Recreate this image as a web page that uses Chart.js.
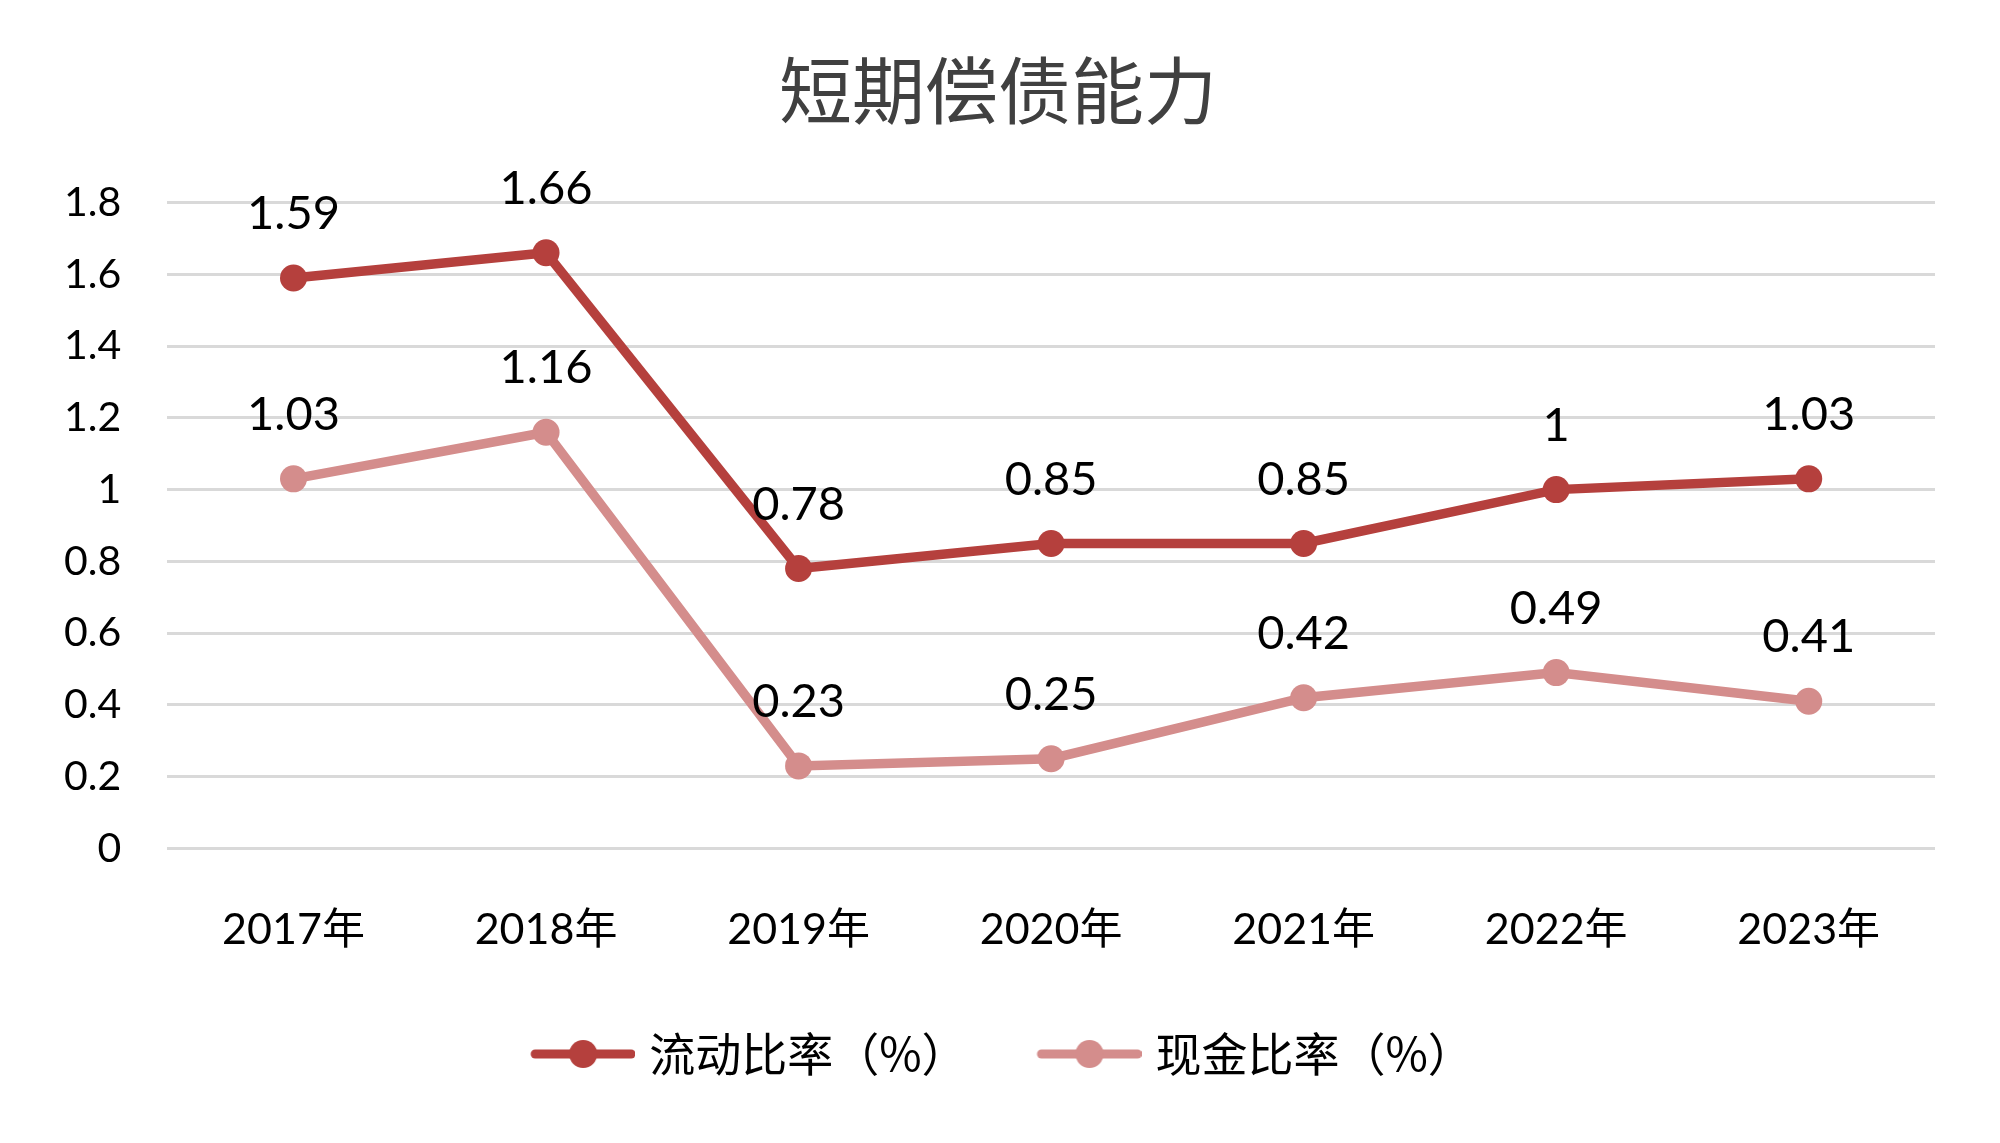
<!DOCTYPE html>
<html>
<head>
<meta charset="utf-8">
<script src="https://cdn.jsdelivr.net/npm/chart.js@4"></script>
<style>
html,body{margin:0;padding:0;background:#fff;}
#wrap{width:2000px;height:1143px;}
</style>
</head>
<body>
<div id="wrap"><canvas id="c" width="2000" height="1143"></canvas></div>
<script>
const categories = ['2017年','2018年','2019年','2020年','2021年','2022年','2023年'];
const currentRatio = [1.59, 1.66, 0.78, 0.85, 0.85, 1, 1.03];
const cashRatio = [1.03, 1.16, 0.23, 0.25, 0.42, 0.49, 0.41];
const seriesNames = ['流动比率（%）', '现金比率（%）'];
const yTicks = [0, 0.2, 0.4, 0.6, 0.8, 1, 1.2, 1.4, 1.6, 1.8];
const titleText = '短期偿债能力';

const darkColor = '#B5403D';
const lightColor = '#D48D8C';
const latin = 'Lato, "Noto Sans CJK SC", sans-serif';

function legendIcon(color) {
  const cv = document.createElement('canvas');
  cv.width = 122; cv.height = 30;
  const g = cv.getContext('2d');
  g.strokeStyle = color; g.lineWidth = 9; g.lineCap = 'round';
  g.beginPath(); g.moveTo(22, 15); g.lineTo(118, 15); g.stroke();
  g.fillStyle = color;
  g.beginPath(); g.arc(70, 15, 14, 0, Math.PI * 2); g.fill();
  return cv;
}
const icons = [legendIcon(darkColor), legendIcon(lightColor)];

const valueLabels = {
  id: 'valueLabels',
  afterDatasetsDraw(chart) {
    const ctx = chart.ctx;
    ctx.save();
    ctx.font = '47px ' + latin;
    ctx.fillStyle = '#000';
    ctx.textAlign = 'center';
    ctx.textBaseline = 'middle';
    chart.data.datasets.forEach((ds, i) => {
      const meta = chart.getDatasetMeta(i);
      meta.data.forEach((pt, j) => {
        ctx.fillText(String(ds.data[j]), pt.x, pt.y - 64);
      });
    });
    ctx.restore();
  }
};

new Chart(document.getElementById('c'), {
  type: 'line',
  data: {
    labels: categories,
    datasets: [
      {
        label: seriesNames[0],
        data: currentRatio,
        borderColor: darkColor,
        backgroundColor: darkColor,
        borderWidth: 9.5,
        pointRadius: 13.5,
        pointHoverRadius: 13.5,
        pointBackgroundColor: darkColor,
        pointBorderWidth: 0,
        tension: 0
      },
      {
        label: seriesNames[1],
        data: cashRatio,
        borderColor: lightColor,
        backgroundColor: lightColor,
        borderWidth: 9.5,
        pointRadius: 13.5,
        pointHoverRadius: 13.5,
        pointBackgroundColor: lightColor,
        pointBorderWidth: 0,
        tension: 0
      }
    ]
  },
  options: {
    responsive: false,
    animation: false,
    devicePixelRatio: 1,
    layout: { padding: { left: 18, right: 22, top: 0, bottom: 56 } },
    plugins: {
      title: {
        display: true,
        text: titleText,
        color: '#404040',
        font: { family: '"Noto Sans CJK SC", sans-serif', size: 73, weight: 'normal' },
        padding: { top: 46, bottom: 69 }
      },
      legend: {
        display: true,
        position: 'bottom',
        labels: {
          usePointStyle: true,
          pointStyleWidth: 104,
          padding: 61,
          color: '#000',
          font: { family: '"Noto Sans CJK SC", sans-serif', size: 46 },
          generateLabels(chart) {
            const items = Chart.defaults.plugins.legend.labels.generateLabels(chart);
            items.forEach((it, i) => { it.pointStyle = icons[i]; });
            return items;
          }
        }
      },
      tooltip: { enabled: false }
    },
    scales: {
      x: {
        offset: true,
        grid: { display: false, drawTicks: false },
        border: { display: false },
        ticks: { color: '#000', font: { family: latin, size: 43 }, padding: 56 },
        afterFit(s) { s.height = s.height - 42; }
      },
      y: {
        min: 0,
        max: 1.8,
        afterBuildTicks(scale) { scale.ticks = yTicks.map(v => ({ value: v })); },
        grid: { color: '#D9D9D9', lineWidth: 3, drawTicks: false },
        border: { display: false },
        ticks: {
          color: '#000',
          font: { family: latin, size: 41 },
          padding: 46,
          callback: v => String(Math.round(v * 10) / 10)
        }
      },
      yPad: {
        position: 'right',
        display: true,
        grid: { display: false, drawTicks: false },
        border: { display: false },
        ticks: { display: false },
        afterFit(s) { s.width = 43; }
      }
    }
  },
  plugins: [valueLabels]
});
</script>
</body>
</html>
